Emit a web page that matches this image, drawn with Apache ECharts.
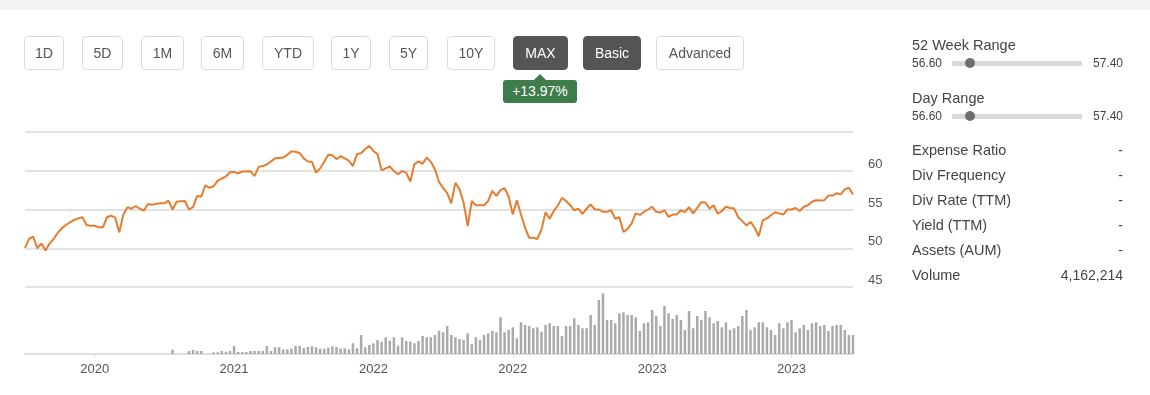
<!DOCTYPE html>
<html>
<head>
<meta charset="utf-8">
<script src="https://cdn.jsdelivr.net/npm/echarts@6.0.0/dist/echarts.min.js"></script>
<style>
  html, body { margin: 0; padding: 0; }
  body { width: 1150px; height: 395px; position: relative; overflow: hidden; background: #fff;
         font-family: "Liberation Sans", Arial, sans-serif; color: #444; }
  #topbar { position: absolute; left: 0; top: 0; width: 1150px; height: 10px; background: #f3f2f0; }
  #chart { position: absolute; left: 0; top: 0; width: 1150px; height: 395px; }
  .btn { position: absolute; top: 36px; height: 34px; box-sizing: border-box; border: 1px solid #dcdcdc;
         border-radius: 4px; background: #fff; color: #555; font-size: 14px; line-height: 32px; text-align: center; z-index: 2; }
  .btn.on { background: #555; border-color: #555; color: #fff; }
  #badge { position: absolute; left: 503px; top: 80px; width: 74px; height: 23px; background: #3f7c4b; color: #fff;
           border-radius: 3px; font-size: 14px; line-height: 23px; text-align: center; z-index: 2; }
  #badge:before { content: ""; position: absolute; left: 31px; top: -6px; border-left: 6px solid transparent;
           border-right: 6px solid transparent; border-bottom: 6px solid #3f7c4b; }
  .t { position: absolute; white-space: nowrap; z-index: 2; }
  .lbl { left: 912px; font-size: 14.5px; line-height: 20px; color: #444; }
  .val { right: 27px; font-size: 14px; line-height: 20px; color: #444; text-align: right; }
  .sm { font-size: 12px; line-height: 14px; color: #444; }
  .track { position: absolute; left: 952px; width: 130px; height: 5px; background: #d9d9d9; z-index: 2; }
  .dot { position: absolute; left: 965px; width: 10px; height: 10px; border-radius: 5px; background: #6e6e6e; z-index: 3; }
</style>
</head>
<body>
<div id="topbar"></div>
<div id="chart"></div>

<div class="btn" style="left:24px;width:40px">1D</div>
<div class="btn" style="left:82px;width:41px">5D</div>
<div class="btn" style="left:141px;width:43px">1M</div>
<div class="btn" style="left:201px;width:43px">6M</div>
<div class="btn" style="left:262px;width:52px">YTD</div>
<div class="btn" style="left:331px;width:40px">1Y</div>
<div class="btn" style="left:389px;width:39px">5Y</div>
<div class="btn" style="left:447px;width:48px">10Y</div>
<div class="btn on" style="left:513px;width:55px">MAX</div>
<div class="btn on" style="left:583px;width:58px">Basic</div>
<div class="btn" style="left:656px;width:88px">Advanced</div>
<div id="badge">+13.97%</div>

<div class="t lbl" style="top:35px">52 Week Range</div>
<div class="t sm" style="left:912px;top:56px">56.60</div>
<div class="track" style="top:61px"></div>
<div class="dot" style="top:58px"></div>
<div class="t sm" style="right:27px;top:56px">57.40</div>

<div class="t lbl" style="top:88px">Day Range</div>
<div class="t sm" style="left:912px;top:109px">56.60</div>
<div class="track" style="top:114px"></div>
<div class="dot" style="top:111px"></div>
<div class="t sm" style="right:27px;top:109px">57.40</div>

<div class="t lbl" style="top:140px">Expense Ratio</div><div class="t val" style="top:140px">-</div>
<div class="t lbl" style="top:165px">Div Frequency</div><div class="t val" style="top:165px">-</div>
<div class="t lbl" style="top:190px">Div Rate (TTM)</div><div class="t val" style="top:190px">-</div>
<div class="t lbl" style="top:215px">Yield (TTM)</div><div class="t val" style="top:215px">-</div>
<div class="t lbl" style="top:240px">Assets (AUM)</div><div class="t val" style="top:240px">-</div>
<div class="t lbl" style="top:265px">Volume</div><div class="t val" style="top:265px">4,162,214</div>

<script>
// Price (close) values, one per period
const priceValues = [
  50.05, 51.2, 51.5, 50.0, 50.6, 49.7, 50.6, 51.2, 52.0, 52.6,
  53.0, 53.35, 53.65, 53.85, 54.0, 53.0, 52.9, 52.9, 52.7, 52.7,
  54.0, 54.2, 53.95, 52.05, 54.35, 55.3, 55.1, 55.45, 55.1, 54.85,
  55.7, 55.6, 55.75, 55.8, 55.8, 56.15, 55.0, 56.0, 56.05, 56.1,
  55.0, 55.3, 56.75, 56.65, 58.1, 57.8, 58.0, 58.7, 59.0, 59.25,
  59.8, 59.85, 59.65, 59.9, 59.9, 59.95, 59.3, 60.5, 60.6, 60.8,
  61.2, 61.6, 61.65, 61.7, 62.05, 62.5, 62.45, 62.3, 61.6, 61.2,
  61.15, 59.75, 60.3, 61.15, 62.05, 62.0, 61.5, 61.9, 61.6, 61.3,
  60.6, 62.15, 62.25, 62.8, 63.2, 62.55, 62.15, 60.05, 60.3, 60.55,
  59.95, 59.55, 59.95, 59.75, 58.6, 60.85, 61.2, 60.9, 61.7, 61.15,
  60.2, 58.55, 57.8, 57.1, 55.8, 58.45, 57.6, 55.9, 52.85, 56.1,
  55.55, 55.55, 55.55, 56.1, 57.4, 56.75, 57.5, 57.75, 56.65, 54.35,
  56.2, 54.35, 52.65, 51.35, 51.35, 51.2, 52.4, 54.65, 53.8, 54.8,
  55.55, 56.5, 56.1, 55.55, 54.9, 55.1, 54.45, 55.1, 55.65, 55.0,
  55.0, 54.7, 54.7, 54.9, 53.8, 54.0, 52.1, 52.5, 53.2, 54.5,
  54.3, 54.7, 55.0, 55.35, 54.7, 54.6, 54.9, 54.05, 54.35, 54.35,
  54.9, 54.65, 55.3, 54.5, 55.2, 55.95, 55.9, 55.1, 55.55, 54.45,
  54.8, 55.35, 55.2, 55.15, 54.0, 53.5, 52.95, 53.4, 52.65, 51.55,
  53.6, 53.85, 54.25, 54.65, 54.5, 54.35, 55.0, 55.0, 55.2, 54.8,
  55.35, 55.55, 56.0, 56.2, 56.15, 56.2, 56.8, 56.8, 57.1, 56.95,
  57.6, 57.8, 56.95
];

// Volume values, millions of shares
const volumeValues = [
  0, 0, 0, 0, 0, 0, 0, 0, 0, 0,
  0, 0, 0, 0, 0, 0, 0, 0, 0, 0,
  0, 0, 0, 0, 0, 0, 0, 0, 0, 0,
  0, 0, 0, 0, 0, 0, 0.96, 0, 0, 0,
  0.67, 0.96, 0.67, 0.67, 0, 0, 0.38, 0.38, 0.67, 0.52,
  0.67, 1.79, 0.45, 0.45, 0.45, 0.67, 0.67, 0.67, 0.67, 1.79,
  0.67, 1.5, 1.5, 1.05, 1.05, 1.19, 1.79, 1.79, 1.34, 1.57,
  1.72, 1.5, 1.19, 1.19, 1.41, 1.72, 1.57, 1.28, 1.28, 1.05,
  2.4, 1.28, 4.26, 1.5, 2.02, 2.4, 3.14, 2.76, 3.74, 2.98,
  3.74, 1.86, 3.74, 2.91, 2.76, 2.4, 2.91, 4.03, 3.74, 3.74,
  4.26, 5.2, 4.86, 6.27, 4.26, 3.74, 3.36, 3.14, 4.64, 2.24,
  3.74, 3.14, 4.26, 4.64, 5.15, 4.86, 8.22, 4.86, 5.38, 5.98,
  3.52, 7.1, 6.5, 6.27, 5.76, 5.98, 5.0, 6.5, 6.88, 6.27,
  6.27, 4.03, 6.27, 6.27, 8.0, 6.5, 5.76, 5.76, 8.74, 6.5,
  12.1, 13.6, 7.62, 7.62, 6.88, 9.12, 9.34, 8.74, 8.74, 8.22,
  5.15, 6.88, 7.1, 9.86, 8.51, 6.27, 10.75, 9.12, 7.84, 8.74,
  7.62, 5.38, 9.63, 5.76, 8.51, 7.62, 9.63, 8.22, 6.88, 7.39,
  5.98, 7.1, 5.38, 5.76, 6.27, 8.51, 9.86, 5.38, 5.98, 7.1,
  7.1, 5.98, 5.38, 4.26, 6.88, 5.76, 7.1, 7.62, 4.86, 5.76,
  6.5, 5.38, 6.88, 7.1, 6.27, 6.5, 5.15, 6.27, 6.5, 6.5,
  5.38, 4.26, 4.26
];

// Where the x axis shows its labels, and what they read
const tickIndex = [17, 51, 85, 119, 153, 187];
const tickLabels = ["2020", "2021", "2022", "2022", "2023", "2023"];

// Y axis ticks for price
const priceMin = 45, priceMax = 65, priceStep = 5;

const categories = priceValues.map((_, i) => String(i));
const isTick = (i) => tickIndex.indexOf(i) !== -1;

const chart = echarts.init(document.getElementById('chart'), null, { renderer: 'canvas' });
chart.setOption({
  animation: false,
  textStyle: { fontFamily: '"Liberation Sans", Arial, sans-serif' },
  grid: [
    { left: 25, width: 828, top: 132, height: 155 },
    { left: 25, width: 828, top: 287, height: 67 }
  ],
  xAxis: [
    { type: 'category', gridIndex: 0, data: categories, boundaryGap: false, show: false },
    { type: 'category', gridIndex: 1, data: categories, boundaryGap: false,
      axisLine: { show: true, lineStyle: { color: '#dedede', width: 2 } },
      axisTick: { show: true, interval: (i) => isTick(i), length: 4, lineStyle: { color: '#dedede', width: 1 } },
      axisLabel: { interval: (i) => isTick(i), formatter: (v, i) => tickLabels[tickIndex.indexOf(i)] || '',
                   color: '#555', fontSize: 13, margin: 9 },
      splitLine: { show: false } }
  ],
  yAxis: [
    { type: 'value', gridIndex: 0, position: 'right', min: priceMin, max: priceMax, interval: priceStep,
      axisLine: { show: false }, axisTick: { show: false },
      axisLabel: { showMaxLabel: false, verticalAlign: 'bottom', margin: 15, color: '#555', fontSize: 13 },
      splitLine: { show: true, lineStyle: { color: '#e3e3e3', width: 2 } } },
    { type: 'value', gridIndex: 1, min: 0, max: 15, show: false, splitLine: { show: false } }
  ],
  series: [
    { type: 'line', xAxisIndex: 0, yAxisIndex: 0, data: priceValues, symbol: 'none',
      lineStyle: { color: '#e67c2e', width: 2 }, itemStyle: { color: '#e67c2e' } },
    { type: 'bar', xAxisIndex: 1, yAxisIndex: 1, data: volumeValues, barWidth: 2.5, clip: false,
      itemStyle: { color: '#aaaaaa' } }
  ]
});
</script>
</body>
</html>
